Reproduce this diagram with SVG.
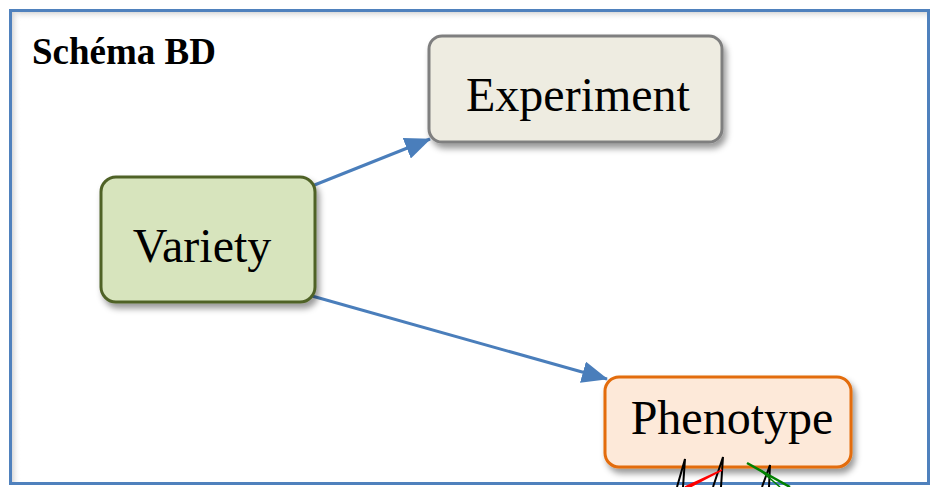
<svg xmlns="http://www.w3.org/2000/svg" width="932" height="487" viewBox="0 0 932 487">
  <defs>
    <style>
      .node-box { stroke-width: 3; filter: url(#shadow); }
      .label { font-family: "Liberation Serif", "Times New Roman", serif; fill: #000; }
      .node-label { font-size: 48px; text-anchor: middle; }
      .edge { stroke: #4a7ebb; stroke-width: 3; fill: none; marker-end: url(#head); }
      .tick { stroke: #000; stroke-width: 2; fill: none; stroke-linejoin: miter; }
    </style>
    <filter id="shadow" x="-20%" y="-20%" width="140%" height="150%">
      <feDropShadow dx="3" dy="5" stdDeviation="3" flood-color="#000" flood-opacity="0.4"/>
    </filter>
    <linearGradient id="topShade" x1="0" y1="0" x2="0" y2="1">
      <stop offset="0" stop-color="#d0d0d0"/>
      <stop offset="1" stop-color="#ffffff" stop-opacity="0"/>
    </linearGradient>
    <linearGradient id="leftShade" x1="0" y1="0" x2="1" y2="0">
      <stop offset="0" stop-color="#d0d0d0"/>
      <stop offset="1" stop-color="#ffffff" stop-opacity="0"/>
    </linearGradient>
    <marker id="head" markerUnits="userSpaceOnUse" markerWidth="26" markerHeight="22" refX="25" refY="11" orient="auto">
      <path d="M0,0 L26,11 L0,22 Z" fill="#4a7ebb"/>
    </marker>
  </defs>

  <!-- page background and frame -->
  <rect x="0" y="0" width="932" height="487" fill="#fff"/>
  <rect x="11" y="11" width="917" height="472" fill="#fff"/>
  <rect x="11" y="11" width="917" height="10" fill="url(#topShade)"/>
  <rect x="11" y="11" width="10" height="472" fill="url(#leftShade)"/>
  <rect x="10.5" y="10.5" width="918" height="473" fill="none" stroke="#4f81bd" stroke-width="3"/>

  <text class="label" x="32" y="64" font-size="37" font-weight="bold">Schéma BD</text>

  <!-- connectors -->
  <g id="connectors">
    <line class="edge" x1="312" y1="186" x2="430" y2="139"/>
    <line class="edge" x1="312" y1="296" x2="607" y2="379"/>
  </g>

  <!-- nodes -->
  <g id="experiment">
    <rect class="node-box" x="429" y="36" width="293" height="106" rx="13" fill="#eeece1" stroke="#7f7f7f"/>
    <text class="label node-label" x="578" y="111">Experiment</text>
  </g>
  <g id="variety">
    <rect class="node-box" x="101" y="177" width="214" height="125" rx="15" fill="#d7e4bd" stroke="#4f6228"/>
    <text class="label node-label" x="202" y="262">Variety</text>
  </g>
  <g id="phenotype">
    <rect class="node-box" x="605" y="377" width="246" height="90" rx="14" fill="#fde9d9" stroke="#e36c09"/>
    <text class="label node-label" x="732" y="434">Phenotype</text>
  </g>

  <!-- marks running off the lower edge -->
  <g id="marks">
    <path class="tick" d="M677,487 L685,459 L683,487"/>
    <path class="tick" d="M713,487 L723,457 L721,487"/>
    <path class="tick" d="M762,487 L770,465 L769,487"/>
    <path d="M685,487 L722,470 L690,487 Z" fill="#ff0000" stroke="#ff0000" stroke-width="1.5"/>
    <path d="M747,463 L790,487" stroke="#008000" stroke-width="2.5" fill="none"/>
    <path d="M760,470 L780,487" stroke="#008000" stroke-width="1.5" fill="none"/>
  </g>
</svg>
